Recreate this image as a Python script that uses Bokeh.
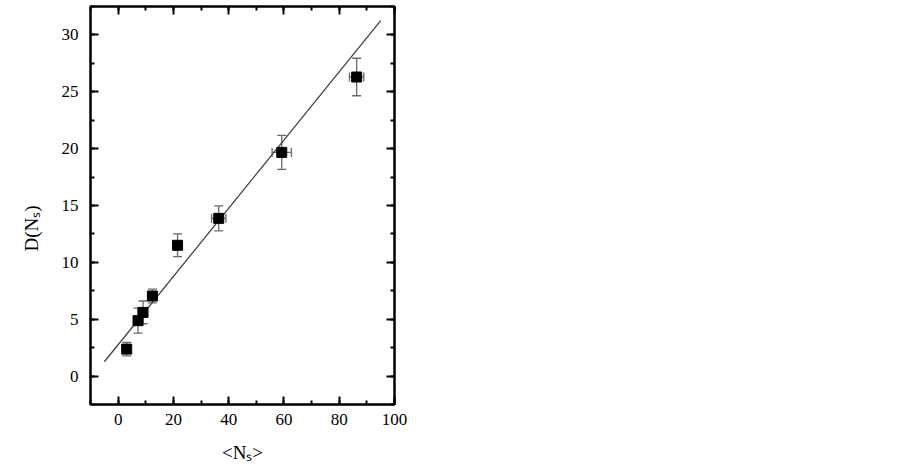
from bokeh.plotting import figure
from bokeh.models import (ColumnDataSource, Whisker, TeeHead, LinearAxis, Title,
                          SingleIntervalTicker, Range1d, CustomJSTickFormatter)
from bokeh.embed import file_html
from bokeh.resources import INLINE

# data
mean_ns = [3.1, 7.2, 9.0, 12.4, 21.5, 36.4, 59.2, 86.3]
d_ns = [2.37, 4.87, 5.6, 7.04, 11.5, 13.87, 19.67, 26.3]
d_err = [0.6, 1.1, 1.0, 0.6, 1.0, 1.1, 1.5, 1.65]
ns_err = [1.0, 1.2, 1.2, 1.5, 1.2, 2.6, 3.5, 2.6]
fit_x = [-5, 95]
fit_y = [1.26, 31.26]

src = ColumnDataSource(dict(
    x=mean_ns, y=d_ns,
    ylo=[v - e for v, e in zip(d_ns, d_err)],
    yhi=[v + e for v, e in zip(d_ns, d_err)],
    xlo=[v - e for v, e in zip(mean_ns, ns_err)],
    xhi=[v + e for v, e in zip(mean_ns, ns_err)],
))

p = figure(frame_width=304, frame_height=398, output_backend="svg",
           toolbar_location=None, x_range=Range1d(-10, 100),
           y_range=Range1d(-2.5, 32.5),
           min_border_left=90, min_border_right=20, min_border_top=6,
           min_border_bottom=56)

p.grid.visible = False
p.outline_line_color = "black"
p.outline_line_width = 2
p.background_fill_color = "white"
p.border_fill_color = "white"

FONT = "Liberation Serif"
ERR_COL = "#6a6a6a"

# fit line
p.line(fit_x, fit_y, line_color="#444444", line_width=1.3)

# error bars
yw = Whisker(source=src, base="x", lower="ylo", upper="yhi", dimension="height",
             line_color=ERR_COL, line_width=1.3,
             upper_head=TeeHead(size=9, line_color=ERR_COL, line_width=1.3),
             lower_head=TeeHead(size=9, line_color=ERR_COL, line_width=1.3))
xw = Whisker(source=src, base="y", lower="xlo", upper="xhi", dimension="width",
             line_color=ERR_COL, line_width=1.3,
             upper_head=TeeHead(size=9, line_color=ERR_COL, line_width=1.3),
             lower_head=TeeHead(size=9, line_color=ERR_COL, line_width=1.3))
p.add_layout(yw)
p.add_layout(xw)

p.scatter("x", "y", source=src, marker="square", size=10,
          fill_color="black", line_color="black")

xt = SingleIntervalTicker(interval=20, num_minor_ticks=2)
yt = SingleIntervalTicker(interval=5, num_minor_ticks=2)

def style(ax, ticker):
    ax.ticker = ticker
    ax.axis_line_color = "black"
    ax.axis_line_width = 2
    ax.major_tick_in = 8
    ax.major_tick_out = 0
    ax.minor_tick_in = 4
    ax.minor_tick_out = 0
    ax.major_tick_line_width = 2
    ax.minor_tick_line_width = 2
    ax.major_tick_line_color = "black"
    ax.minor_tick_line_color = "black"
    ax.major_label_text_font = FONT
    ax.major_label_text_font_size = "17px"
    ax.major_label_text_color = "black"
    ax.axis_label_text_font = FONT
    ax.axis_label_text_font_size = "19px"
    ax.axis_label_text_font_style = "normal"
    ax.axis_label_text_color = "black"

style(p.xaxis[0], xt)
style(p.yaxis[0], yt)
p.xaxis[0].axis_label = "<Nₛ>"
p.xaxis[0].major_label_standoff = 9
p.yaxis[0].major_label_standoff = 12
p.xaxis[0].axis_label_standoff = 14

# y-axis title, sitting a little below the frame centre as in the reference
ytitle = Title(text="D(Nₛ)", align="left", offset=153, text_font=FONT,
               text_font_size="19px", text_font_style="normal",
               text_color="black", standoff=34)
p.add_layout(ytitle, "left")

top = LinearAxis(formatter=CustomJSTickFormatter(code="return ''"))
right = LinearAxis(formatter=CustomJSTickFormatter(code="return ''"))
style(top, SingleIntervalTicker(interval=20, num_minor_ticks=2))
style(right, SingleIntervalTicker(interval=5, num_minor_ticks=2))
for ax in (top, right):
    ax.major_label_text_font_size = "0px"
    ax.major_label_standoff = 0
p.add_layout(top, "above")
p.add_layout(right, "right")

open("out.html", "w").write(file_html(p, INLINE))
